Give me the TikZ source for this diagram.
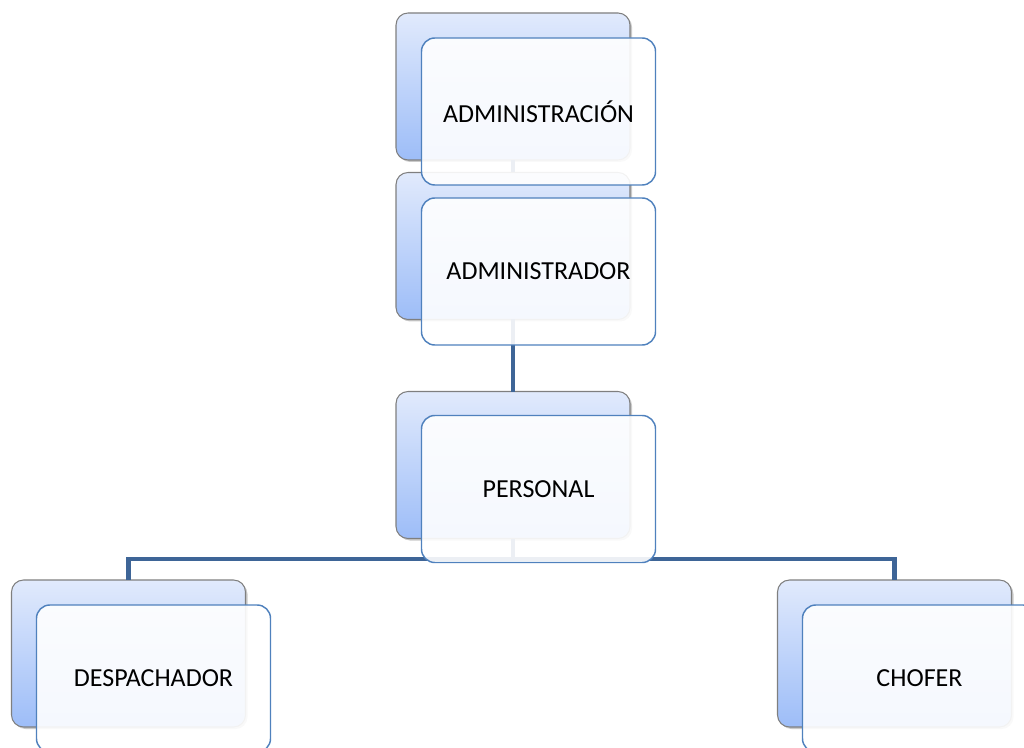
\documentclass[tikz,border=0pt]{standalone}
\usepackage{fontspec}
\setmainfont{Carlito}
\usetikzlibrary{shadows}
\definecolor{connblue}{HTML}{3E6597}
\definecolor{frontborder}{HTML}{4F81BD}
\definecolor{backtop}{HTML}{E1EAFC}
\definecolor{backbottom}{HTML}{9DBDF8}
\definecolor{backborder}{HTML}{7F7F7F}
\begin{document}
\begin{tikzpicture}[x=0.75pt,y=-0.75pt,
  backbox/.style={rectangle, rounded corners=9pt, draw=backborder, line width=0.8pt,
    top color=backtop, bottom color=backbottom,
    minimum width=175.5pt, minimum height=110.25pt, inner sep=0pt, outer sep=0pt,
    drop shadow={shadow xshift=1.5pt, shadow yshift=-1.5pt, opacity=0.35, fill=black!60}},
  frontbox/.style={rectangle, rounded corners=10pt, draw=frontborder, line width=1.1pt,
    fill=white, fill opacity=0.9, text opacity=1,
    minimum width=175.5pt, minimum height=110.25pt, inner sep=0pt, outer sep=0pt,
    font=\fontsize{19.5}{23}\selectfont, align=center},
  conn/.style={draw=connblue, line width=3.6pt}]
\useasboundingbox (0,0) rectangle (1024,748);
\clip (0,0) rectangle (1024,748);
% back boxes
\node[backbox] (b1) at (513,86.5) {};
\node[backbox] (b2) at (513,246) {};
\node[backbox] (b3) at (513,465) {};
\node[backbox] (b4) at (128.5,653.5) {};
\node[backbox] (b5) at (894.5,653.5) {};
\coordinate (hub) at (513,559);
% connectors
\draw[conn] (b1.south) -- (b2.north);
\draw[conn] (b2.south) -- (b3.north);
\draw[conn] (b3.south) -- (hub) -| (b4.north);
\draw[conn] (hub) -| (b5.north);
% front boxes
\node[frontbox] (n1) at (538.5,111.5) {ADMINISTRACIÓN};
\node[frontbox] (n2) at (538.5,271.5) {ADMINISTRADOR};
\node[frontbox] (n3) at (538.5,489) {PERSONAL};
\node[frontbox] (n4) at (153.5,678.5) {DESPACHADOR};
\node[frontbox] (n5) at (919.5,678.5) {CHOFER};
\end{tikzpicture}
\end{document}
